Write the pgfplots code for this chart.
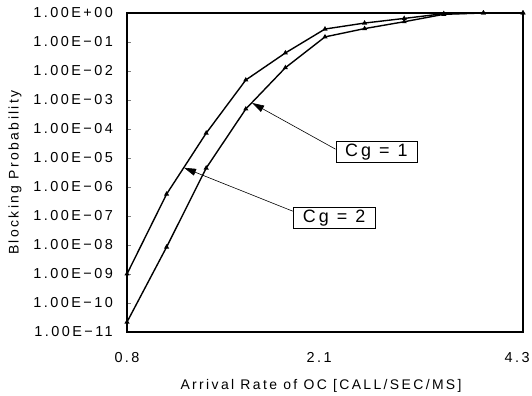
\documentclass[border=0pt]{standalone}
\usepackage{fontspec}
\setmainfont{Liberation Sans}[LetterSpace=17]
\usepackage{pgfplots}
\pgfplotsset{compat=1.18}
\usetikzlibrary{arrows.meta}
\begin{document}
\begin{tikzpicture}
\begin{axis}[
  scale only axis, width=396bp, height=319bp,
  ymode=log, ymin=1e-11, ymax=1,
  xmin=0, xmax=10,
  axis line style={line width=1.2pt},
  xtick={0,4.85,9.85}, xticklabels={0.8,2.1,4.3},
  ytick={1e-11,1e-10,1e-9,1e-8,1e-7,1e-6,1e-5,1e-4,1e-3,1e-2,1e-1,1},
  yticklabels={1.00E−11,1.00E−10,1.00E−09,1.00E−08,1.00E−07,1.00E−06,1.00E−05,1.00E−04,1.00E−03,1.00E−02,1.00E−01,1.00E+00},
  yminorticks=false,
  tick label style={font=\fontsize{14.5}{16}\selectfont},
  xtick style={draw=none},
  ytick pos=left, tick align=inside, major tick length=4bp,
  ytick style={line width=0.8pt},
  yticklabel style={anchor=east, inner sep=0pt, xshift=-14bp},
  xticklabel style={anchor=base, inner sep=0pt, yshift=-30bp},
  xlabel={Arrival Rate of OC [CALL/SEC/MS]},
  ylabel={Blocking Probability},
  every axis x label/.style={at={(axis description cs:0.49,-0.179)}, anchor=base, inner sep=0pt, font=\fontsize{14}{16}\selectfont},
  every axis y label/.style={at={(axis description cs:-0.283,0.5)}, rotate=90, anchor=center, inner sep=0pt, font=\fontsize{14}{16}\selectfont},
  clip=false,
]
% Cg = 2 (upper curve)
\addplot[black, line width=1.4pt, mark=triangle*, mark size=1.6pt] coordinates {
 (0,1e-9) (1,5.7e-7) (2,7.2e-5) (3,4.9e-3) (4,4.2e-2) (5,0.28) (6,0.45) (7,0.65) (8,0.95) (9,1.0) (10,1.0)};
% Cg = 1 (lower curve)
\addplot[black, line width=1.4pt, mark=triangle*, mark size=1.6pt] coordinates {
 (0,2.2e-11) (1,8.5e-9) (2,4.5e-6) (3,4.9e-4) (4,1.3e-2) (5,0.15) (6,0.29) (7,0.5) (8,0.9) (9,1.0) (10,1.0)};
\node[draw, line width=0.8pt, minimum width=81bp, minimum height=21bp, inner sep=0pt,
      font=\fontsize{18}{20}\selectfont] (c1) at (axis cs:6.30,1.6e-5) {Cg = 1};
\draw[line width=0.6pt, -{Triangle[length=12bp,width=7bp]}] ([yshift=-8bp]c1.north west) -- (axis cs:3.16,7.9e-4);
\node[draw, line width=0.8pt, minimum width=82bp, minimum height=21bp, inner sep=0pt,
      font=\fontsize{18}{20}\selectfont] (c2) at (axis cs:5.23,8.5e-8) {Cg = 2};
\draw[line width=0.6pt, -{Triangle[length=12bp,width=7bp]}] ([yshift=-4bp]c2.north west) -- (axis cs:1.44,4.6e-6);
\end{axis}
\pgfresetboundingbox
\path[use as bounding box] (current axis.south west) ++(-127bp,-64bp) rectangle ++(532bp,396bp);
\end{tikzpicture}
\end{document}
